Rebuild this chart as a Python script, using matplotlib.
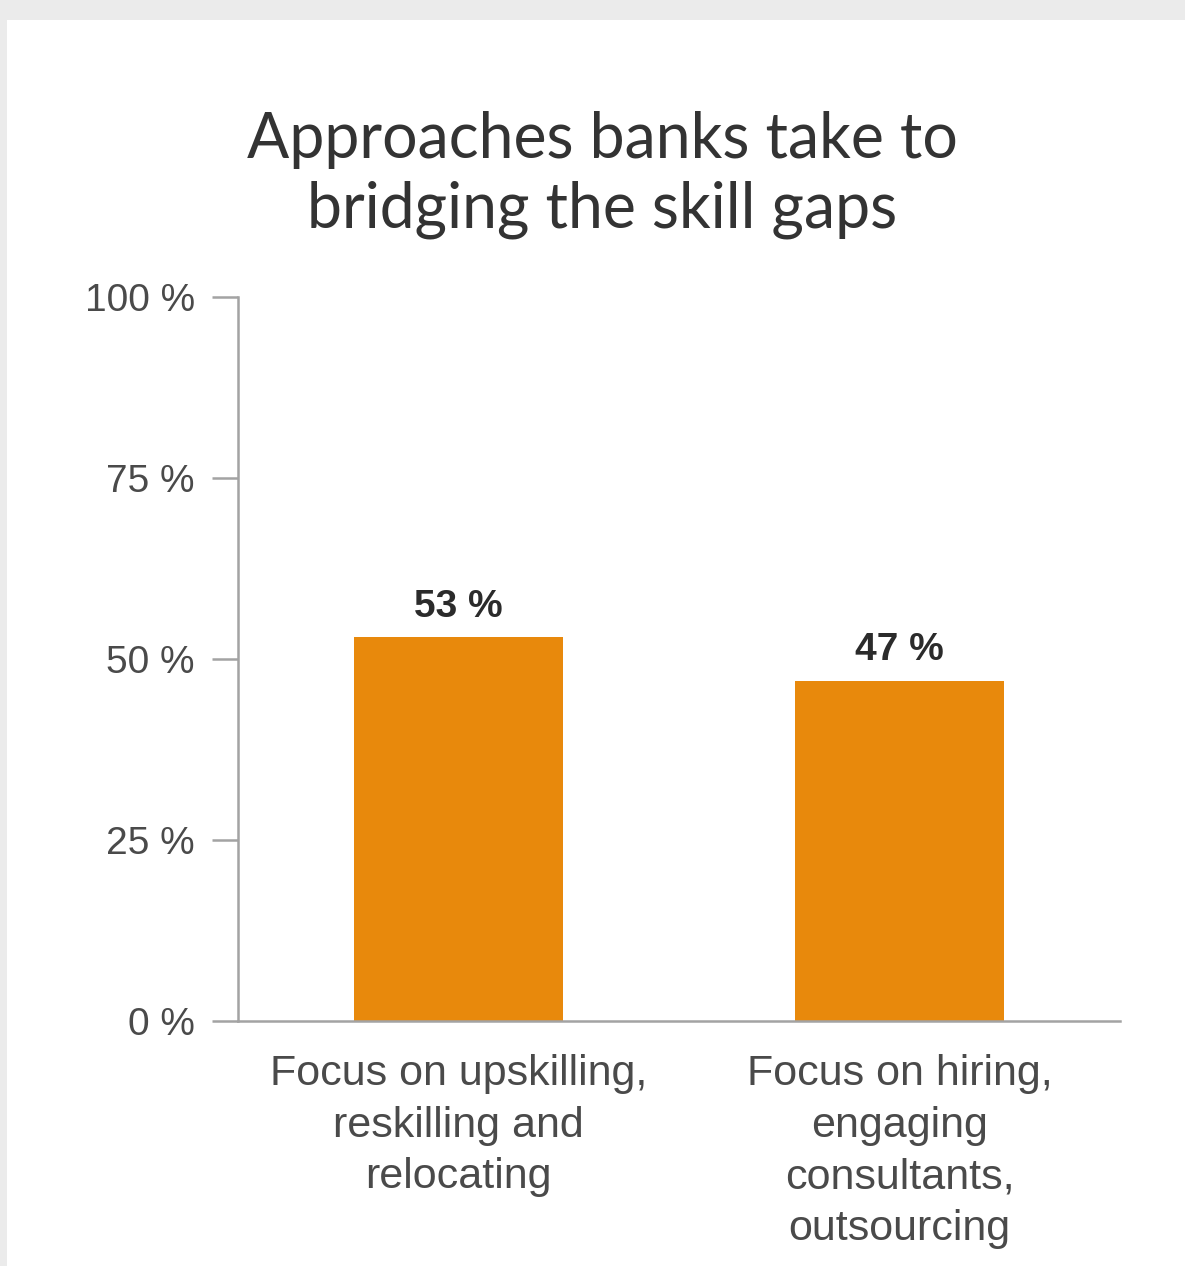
import matplotlib
matplotlib.use("Agg")
import matplotlib.pyplot as plt
from matplotlib.patches import Rectangle

# Datos del gráfico
categorias = [
    "Focus on upskilling,\nreskilling and\nrelocating",
    "Focus on hiring,\nengaging\nconsultants,\noutsourcing",
]
valores = [53, 47]
ticks_y = [0, 25, 50, 75, 100]
etiquetas_y = ["0 %", "25 %", "50 %", "75 %", "100 %"]
titulo = "Approaches banks take to\nbridging the skill gaps"

NARANJA = "#E8890C"
GRIS_EJE = "#a3a3a3"
GRIS_TEXTO = "#4a4a4a"

plt.rcParams["font.family"] = ["Liberation Sans", "DejaVu Sans"]

fig = plt.figure(figsize=(11.85, 12.66), dpi=100)
fig.patch.set_facecolor("white")

# Marco gris claro arriba y a la izquierda
fig.patches.append(Rectangle((0, 0), 0.006, 1, transform=fig.transFigure,
                             facecolor="#ebebeb", edgecolor="none", zorder=0))
fig.patches.append(Rectangle((0, 0.984), 1, 0.016, transform=fig.transFigure,
                             facecolor="#ebebeb", edgecolor="none", zorder=0))

ax = fig.add_axes([0.2008, 0.1935, 0.7443, 0.5719])
x = list(range(len(categorias)))
ax.bar(x, valores, width=0.474, color=NARANJA, zorder=2)

for xi, v in zip(x, valores):
    ax.annotate(f"{v} %", (xi, v), xytext=(0, 9), textcoords="offset points",
                ha="center", va="bottom", fontsize=28, fontweight="bold",
                color="#2b2b2b")

ax.set_xlim(-0.5, 1.5)
ax.set_ylim(0, 100)
ax.set_yticks(ticks_y)
ax.set_yticklabels(etiquetas_y)
ax.set_xticks(x)
ax.set_xticklabels(categorias, fontsize=31, color=GRIS_TEXTO, linespacing=1.37)

ax.tick_params(axis="y", length=19, width=1.8, color=GRIS_EJE, pad=12,
               labelsize=28, labelcolor=GRIS_TEXTO)
ax.tick_params(axis="x", length=0, pad=24)

for lado in ["top", "right"]:
    ax.spines[lado].set_visible(False)
for lado in ["left", "bottom"]:
    ax.spines[lado].set_color(GRIS_EJE)
    ax.spines[lado].set_linewidth(1.8)

fig.text(0.508, 0.862, titulo, ha="center", va="center", fontsize=45,
         color="#333333", linespacing=1.25, family=["Lato", "DejaVu Sans"])

fig.savefig("out.png", dpi=100)
